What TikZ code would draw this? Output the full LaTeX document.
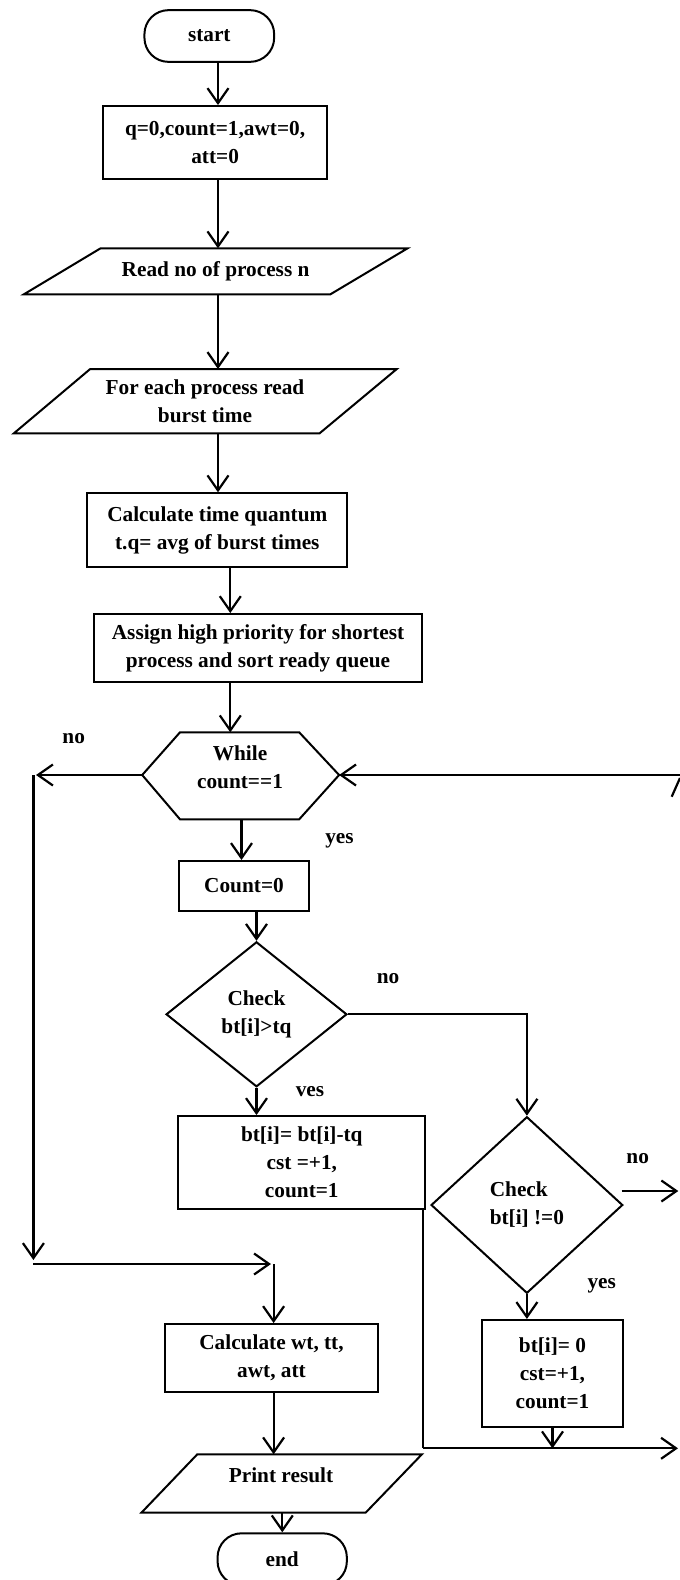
\documentclass[tikz,border=0pt]{standalone}
\usepackage{fontspec}
\setmainfont{Liberation Serif}
\usetikzlibrary{arrows.meta,shapes.geometric}
\begin{document}
\begin{tikzpicture}[x=1pt,y=-1pt,
  every node/.style={font=\fontsize{21.3}{28}\selectfont\bfseries, inner sep=0pt, align=center},
  box/.style={draw, line width=2pt, rectangle},
  term/.style={draw, line width=2pt, rounded corners=24pt},
  dia/.style={draw, line width=2pt, diamond},
  shp/.style={draw, line width=2pt, line join=miter},
  arr/.style={line width=2.2pt, -{Straight Barb[length=15pt,width=21pt]}},
  ln/.style={line width=2.2pt}
]
\path[use as bounding box, clip] (0,0) rectangle (680,1580);

% spines
\coordinate (spA) at (218,0);
\coordinate (spB) at (230.3,0);
\coordinate (spC) at (241.5,0);

% start
\node[term, minimum width=129.7pt, minimum height=51.7pt] (start) at (209.3,36) {start};
\node[box, minimum width=224.6pt, minimum height=73.3pt] (init) at (215.1,142.7) {q=0,count=1,awt=0,\\att=0};
\draw[arr] (start.south -| spA) -- (init.north -| spA);

% read parallelogram
\coordinate (rd1) at (23.9,294.3);
\coordinate (rd2) at (100.6,248.3);
\coordinate (rd3) at (407.6,248.3);
\coordinate (rd4) at (330.4,294.3);
\draw[shp] (rd1) -- (rd2) -- (rd3) -- (rd4) -- cycle;
\node (read) at (215.6,271.3) {Read no of process n};
\coordinate (rdT) at (218,248.3);
\coordinate (rdB) at (218,294.3);
\draw[arr] (init.south -| spA) -- (rdT);

% for each parallelogram
\coordinate (fe1) at (13.9,433.3);
\coordinate (fe2) at (90.2,369);
\coordinate (fe3) at (396.8,369);
\coordinate (fe4) at (319.6,433.3);
\draw[shp] (fe1) -- (fe2) -- (fe3) -- (fe4) -- cycle;
\node (each) at (205,401) {For each process read\\burst time};
\coordinate (feT) at (218,369);
\coordinate (feB) at (218,433.3);
\draw[arr] (rdB) -- (feT);

% time quantum
\node[box, minimum width=260.2pt, minimum height=74pt] (tq) at (217.3,530.3) {Calculate time quantum\\t.q= avg of burst times};
\draw[arr] (feB) -- (tq.north -| feB);

% assign
\node[box, minimum width=327.8pt, minimum height=68.3pt] (assign) at (258,648.2) {Assign high priority for shortest\\process and sort ready queue};
\draw[arr] (tq.south -| spB) -- (assign.north -| spB);

% hexagon
\coordinate (hxW) at (142.2,775);
\coordinate (hx1) at (180,732.3);
\coordinate (hx2) at (299.2,732.3);
\coordinate (hxE) at (339.1,775);
\coordinate (hx3) at (299.2,819.3);
\coordinate (hx4) at (180,819.3);
\draw[shp] (hxW) -- (hx1) -- (hx2) -- (hxE) -- (hx3) -- (hx4) -- cycle;
\node (while) at (240,767) {While\\count==1};
\draw[arr] (assign.south -| spB) -- (hx1 -| spB);

% count=0
\node[box, minimum width=129.7pt, minimum height=50pt] (c0) at (244,886) {Count=0};
\draw[arr] (hx4 -| spC) -- (c0.north -| spC);

% diamond 1
\node[dia, minimum width=180.8pt, minimum height=145pt] (d1) at (256.5,1014.3) {Check\\bt[i]>tq};
\draw[arr] (c0.south -| d1) -- (d1.north);

% update box
\node[box, minimum width=247.2pt, minimum height=93.3pt] (upd) at (301.8,1162.7) {bt[i]= bt[i]-tq\\cst =+1,\\count=1};
\draw[arr] (d1.south) -- (upd.north -| d1.south);

% diamond 2
\node[dia, minimum width=191.7pt, minimum height=176.6pt, align=left] (d2) at (526.9,1205) {Check\\bt[i] !=0};
\draw[arr] (d1.east) -| (d2.north);

% zero box
\node[box, minimum width=141.6pt, minimum height=106.7pt] (zero) at (552.5,1373.3) {bt[i]= 0\\cst=+1,\\count=1};
\draw[arr] (d2.south) -- (zero.north -| d2.south);

% merge line bottom right
\coordinate (mgL) at (423,1448.3);
\coordinate (mgR) at (678,1448.3);
\draw[ln] (upd.south -| mgL) -- (mgL);
\draw[arr] (mgL) -- (mgR);
\draw[arr] (zero.south) -- (zero.south |- mgL);

% no arrow of diamond 2
\coordinate (n2a) at (621.7,1191);
\coordinate (n2b) at (678.3,1191);
\draw[arr] (n2a) -- (n2b);

% left branch
\coordinate (lA) at (36,775);
\coordinate (lTop) at (33.4,775);
\coordinate (lBot) at (33.4,1260);
\coordinate (lC) at (33.4,1264);
\coordinate (mC) at (271,1264);
\coordinate (mD) at (273.6,1264);
\draw[arr] (hxW) -- (lA);
\draw[arr] (lTop) -- (lBot);
\draw[arr] (lC) -- (mC);

% calc wt
\node[box, minimum width=213.3pt, minimum height=68.3pt] (calcwt) at (271.5,1358.2) {Calculate wt, tt,\\awt, att};
\draw[arr] (mD) -- (calcwt.north -| mD);

% print parallelogram
\coordinate (pr1) at (141.4,1512.7);
\coordinate (pr2) at (197.3,1454.3);
\coordinate (pr3) at (421.9,1454.3);
\coordinate (pr4) at (365.6,1512.7);
\draw[shp] (pr1) -- (pr2) -- (pr3) -- (pr4) -- cycle;
\node (print) at (281,1475) {Print result};
\coordinate (prT) at (273.6,1454.3);
\coordinate (prB) at (282.3,1512.7);
\draw[arr] (calcwt.south -| mD) -- (prT);

% end
\node[term, minimum width=129.3pt, minimum height=52pt] (end) at (282.2,1559.3) {end};
\draw[arr] (prB) -- (end.north -| prB);

% right loop back
\coordinate (rE) at (682,775);
\draw[arr] (rE) -- (hxE);
\coordinate (fr1) at (671.7,796.7);
\coordinate (fr2) at (680,778);
\draw[ln] (fr1) -- (fr2);

% labels
\node (no1) at (73.7,738.3) {no};
\node (yes1) at (339.5,840.7) {yes};
\node (no2) at (388,979) {no};
\node (ves) at (310,1091.7) {ves};
\node (no3) at (637.7,1158.3) {no};
\node (yes2) at (601.7,1285.7) {yes};
\end{tikzpicture}
\end{document}
